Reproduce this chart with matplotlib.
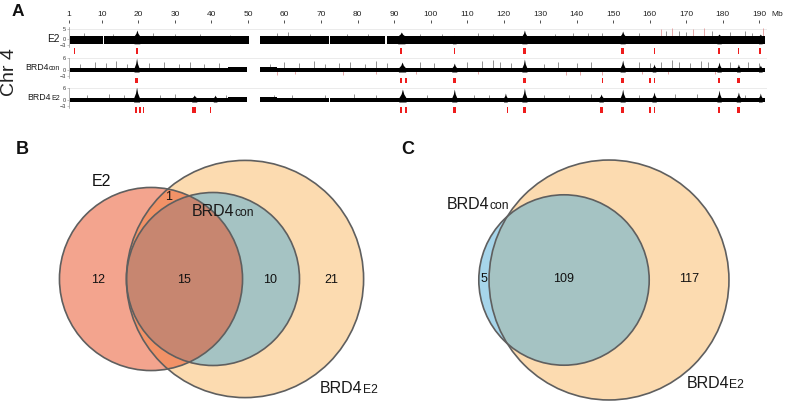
import matplotlib
matplotlib.use("Agg")
import matplotlib.pyplot as plt
import numpy as np
from matplotlib.patches import Circle

plt.rcParams['font.family'] = ['Liberation Sans', 'DejaVu Sans']

W, H = 787, 404

# ---- panel A data (Mb) ----
ruler_ticks = [1, 10, 20, 30, 40, 50, 60, 70, 80, 90, 100, 110, 120, 130, 140, 150, 160, 170, 180, 190]
track_names = [("E2", ""), ("BRD4", "con"), ("BRD4", "E2")]
track_yticks = [[-3, 0, 5], [-3, 0, 6], [-3, 0, 6]]

# (start, end, low, high) of the dense background signal
band_e2 = [(1.2, 10.2, -2.4, 1.5), (10.5, 50.4, -2.4, 1.5), (53.2, 72.3, -2.4, 1.5),
           (72.6, 87.6, -2.4, 1.5), (88.0, 191.5, -2.4, 1.5)]
band_con = [(1.2, 44.5, -1.0, 1.0), (44.5, 49.7, -1.2, 1.3), (53.2, 58.0, -1.2, 1.3),
            (58.0, 191.5, -1.0, 1.0)]
band_e2b = [(1.2, 44.5, -1.0, 1.1), (44.5, 49.7, -1.2, 1.3), (53.2, 58.0, -1.2, 1.3),
            (58.0, 72.3, -1.0, 1.1), (72.6, 191.5, -1.0, 1.1)]

# (centre, height, half width)
peaks_e2 = [(19.6, 4.5, 0.8), (92.0, 3.5, 1.0), (106.5, 1.8, 0.5), (125.7, 4.5, 0.7),
            (152.6, 4.0, 0.7), (179.0, 2.5, 0.6), (190.3, 2.5, 0.5)]
peaks_con = [(19.5, 6.0, 0.7), (92.2, 4.0, 1.0), (106.5, 3.5, 0.7), (125.7, 5.5, 0.7),
             (152.6, 5.0, 0.7), (161.2, 3.0, 0.5), (179.0, 4.0, 0.6), (184.3, 3.0, 0.5),
             (190.3, 2.5, 0.5)]
peaks_e2b = [(19.5, 6.5, 0.8), (35.3, 2.5, 0.7), (41.0, 2.5, 0.5), (92.3, 5.5, 1.0),
             (106.5, 5.5, 0.7), (120.5, 3.5, 0.5), (125.7, 6.0, 0.7), (146.7, 3.0, 0.6),
             (152.6, 5.5, 0.7), (161.2, 4.0, 0.6), (179.0, 5.0, 0.6), (184.3, 4.0, 0.6),
             (190.3, 3.5, 0.5)]

# thin spikes (pos, value)
spikes_e2 = [(5, 3), (13, 2.5), (24, 3), (30, 2.5), (37, 2.5), (45, 2), (58, 3), (61, 3.5),
             (67, 2.5), (77, 2.5), (83, 2.5), (97, 2.5), (103, 2.5), (113, 3), (117, 2.5),
             (134, 2.5), (139, 3), (143, 3), (147, 3), (157, 3), (164.5, 4), (168, 4),
             (170, 3.5), (177, 4), (182, 3.5), (186, 4), (188, 3)]
pink_e2 = [(163, 5), (166, 5.5), (172, 5), (175, 5.5), (191, 5.5)]
spikes_con = [(4, 3), (8, 4), (11, 3.5), (14, 4.5), (17, 3), (23, 3.5), (27, 4), (31, 3),
              (34, 4), (38, 3), (42, 3.5), (56, 3), (60, 4), (64, 3.5), (68, 4.5), (71, 3),
              (75, 3.5), (78, 4), (82, 3), (85, 4.5), (88, 3.5), (97, 4), (101, 3.5),
              (110, 4), (114, 4.5), (117, 5), (119, 4), (122, 3.5), (131, 3), (135, 4),
              (140, 3.5), (144, 4), (157, 4), (160, 3.5), (163, 4), (166, 5), (168, 4),
              (171, 3.5), (174, 4.5), (176, 4), (182, 4), (187, 4), (190, 3.5)]
pink_con = [(58, -2.5), (63, -2), (76, -2.5), (85, -2), (96, -2), (113, -2), (137, -2.5),
            (141, -2.5), (147, -2.5), (158, -2), (165, -2), (178, -2)]
spikes_e2b = [(6, 2.5), (12, 3), (16, 2.5), (26, 2.5), (30, 3), (44, 2.5), (57, 2.5),
              (62, 2.5), (71, 2.5), (79, 3), (85, 2.5), (99, 2.5), (112, 2.5), (116, 2.5),
              (131, 2.5), (138, 2.5), (144, 3), (157, 2.5), (167, 3), (173, 3), (186, 2.5)]
pink_e2b = []

# called regions (pos, width)
marks_e2 = [(2.4, 0.3), (19.7, 0.6), (92.0, 0.6), (106.5, 0.3), (125.7, 0.7), (152.6, 0.7),
            (161.3, 0.3), (178.9, 0.6), (184.3, 0.3), (190.2, 0.6)]
marks_con = [(19.5, 0.6), (91.9, 0.6), (93.2, 0.6), (106.5, 0.7), (125.7, 1.0), (147.2, 0.3),
             (152.6, 0.7), (160.1, 0.3), (161.3, 0.5), (178.9, 0.6), (184.3, 0.6)]
marks_e2b = [(19.3, 0.6), (20.4, 0.5), (21.4, 0.5), (35.2, 0.9), (39.7, 0.3), (91.9, 0.6),
             (93.2, 0.6), (106.5, 0.7), (121.1, 0.3), (125.7, 1.0), (146.7, 0.8),
             (152.6, 0.7), (160.1, 0.3), (161.3, 0.5), (178.9, 0.6), (184.3, 0.6)]

tracks = [
    (band_e2, peaks_e2, spikes_e2, pink_e2, marks_e2),
    (band_con, peaks_con, spikes_con, pink_con, marks_con),
    (band_e2b, peaks_e2b, spikes_e2b, pink_e2b, marks_e2b),
]

# ---- Venn data ----
venn_b = {"E2": 12, "E2&BRD4E2": 1, "all": 15, "con&BRD4E2": 10, "BRD4E2": 21}
venn_c = {"con": 5, "both": 109, "BRD4E2": 117}

c_orange = '#FBB963'
c_red = '#E94B1F'
c_blue = '#4FADD7'
edge = '#5f5f5f'

fig = plt.figure(figsize=(W / 100, H / 100), dpi=100)


def px_axes(left, top, width, height):
    return fig.add_axes([left / W, 1 - (top + height) / H, width / W, height / H])


ov = fig.add_axes([0, 0, 1, 1])
ov.set_xlim(0, W)
ov.set_ylim(H, 0)
ov.axis('off')

x0, x1 = 1.0, 192.0
left_px, scale = 69.0, 3.652
width_px = (x1 - x0) * scale

# ruler
ru = px_axes(left_px, 20, width_px, 3)
ru.set_xlim(x0, x1)
ru.set_ylim(0, 1)
ru.patch.set_visible(False)
for s in ru.spines.values():
    s.set_visible(False)
ru.set_yticks([])
ru.set_xticks(ruler_ticks)
ru.xaxis.tick_top()
ru.tick_params(axis='x', direction='in', length=2.2, width=0.6, color='#333333',
               labelsize=6, pad=1.5, labelcolor='#222222')
ov.text(777, 15, "Mb", fontsize=6, ha='center', va='center', color='#222222')

track_tops = [27, 58, 88]
mark_tops = [48, 77.5, 107]
label_y = [38, 67, 97]

for i, (band, peaks, spikes, pinks, marks) in enumerate(tracks):
    ax = px_axes(left_px, track_tops[i], width_px, 20)
    ax.set_xlim(x0, x1)
    ax.set_ylim(-4, 6)
    ax.patch.set_visible(False)
    for k in ['top', 'right', 'bottom']:
        ax.spines[k].set_visible(False)
    ax.spines['left'].set_color('#999999')
    ax.spines['left'].set_linewidth(0.5)
    ax.set_xticks([])
    ax.set_yticks(track_yticks[i])
    ax.tick_params(axis='y', length=1.5, width=0.4, color='#999999', labelsize=4,
                   pad=0.8, labelcolor='#333333')
    ax.axhline(track_yticks[i][-1], color='#e3e3e3', lw=0.5, zorder=0)
    for (p, v) in spikes:
        ax.vlines(p, 0, v, color='#808080', lw=0.6, zorder=1)
    for (p, v) in pinks:
        ax.vlines(p, 0, v, color='#e39a9a', lw=0.6, zorder=1)
    for (a, b, lo, hi) in band:
        ax.fill_between([a, b], [lo, lo], [hi, hi], color='black', lw=0, zorder=2)
    base_lo = band[-1][2]
    base_hi = band[-1][3]
    for (c, h, hw) in peaks:
        ax.fill_between([c - hw, c - hw * 0.35, c, c + hw * 0.35, c + hw],
                        [base_lo] * 5,
                        [base_hi, base_hi + (h - base_hi) * 0.45, h,
                         base_hi + (h - base_hi) * 0.45, base_hi],
                        color='black', lw=0, zorder=2)

    mk = px_axes(left_px, mark_tops[i], width_px, 5.5)
    mk.set_xlim(x0, x1)
    mk.set_ylim(0, 1)
    mk.axis('off')
    mk.bar([m[0] for m in marks], 1, width=[m[1] for m in marks], color='#ee1c1c', lw=0)


def label_with_sub(x, y, main, sub, size, subsize, align='left', color='#1a1a1a'):
    r = fig.canvas.get_renderer()
    if align == 'left':
        t = ov.text(x, y, main, fontsize=size, ha='left', va='baseline', color=color)
        bb = t.get_window_extent(renderer=r)
        ov.text(x + bb.width, y, sub, fontsize=subsize, ha='left', va='baseline', color=color)
    else:
        s = ov.text(x, y, sub, fontsize=subsize, ha='right', va='baseline', color=color)
        bb = s.get_window_extent(renderer=r)
        ov.text(x - bb.width, y, main, fontsize=size, ha='right', va='baseline', color=color)


for i, (main, sub) in enumerate(track_names):
    if sub:
        label_with_sub(60, label_y[i] + 3, main, sub, 6.3, 5, align='right')
    else:
        ov.text(60, label_y[i] + 3.5, main, fontsize=7.3, ha='right', va='baseline',
                color='#1a1a1a')

ov.text(10, 72, "Chr 4", fontsize=14, rotation=90, ha='center', va='center', color='#222222')

for letter, (x, y), size in [("A", (18, 12), 12.5), ("B", (22, 149.5), 13), ("C", (408, 149.5), 13)]:
    ov.text(x, y, letter, fontsize=size, fontweight='bold', ha='center', va='center',
            color='#111111')


# ---- Venn drawing ----
def circle(cx, cy, r, col):
    ov.add_patch(Circle((cx, cy), r, facecolor=col, edgecolor='none', alpha=0.5, zorder=2))
    ov.add_patch(Circle((cx, cy), r, facecolor='none', edgecolor=edge, lw=1.2, zorder=3))


# panel B : radius from set totals
kb = 17.3
e2_tot = venn_b["E2"] + venn_b["E2&BRD4E2"] + venn_b["all"]
con_tot = venn_b["all"] + venn_b["con&BRD4E2"]
e2b_tot = venn_b["E2&BRD4E2"] + venn_b["all"] + venn_b["con&BRD4E2"] + venn_b["BRD4E2"]
circle(245, 279, kb * np.sqrt(e2b_tot), c_orange)
circle(213, 279, kb * np.sqrt(con_tot), c_blue)
circle(151, 279, kb * np.sqrt(e2_tot), c_red)

nb = dict(fontsize=9, ha='center', va='center', color='#111111', zorder=5)
ov.text(98, 280, str(venn_b["E2"]), **nb)
ov.text(169, 197, str(venn_b["E2&BRD4E2"]), **nb)
ov.text(184, 280, str(venn_b["all"]), **nb)
ov.text(270, 280, str(venn_b["con&BRD4E2"]), **nb)
ov.text(331, 280, str(venn_b["BRD4E2"]), **nb)
ov.text(92, 186, "E2", fontsize=11.5, ha='left', va='baseline', color='#111111')
label_with_sub(192, 216.5, "BRD4", "con", 11.5, 8.7)
label_with_sub(320, 393, "BRD4", "E2", 11.5, 8.7)

# panel C
kc = 7.98
con_c = venn_c["con"] + venn_c["both"]
e2b_c = venn_c["both"] + venn_c["BRD4E2"]
circle(609, 280, kc * np.sqrt(e2b_c), c_orange)
circle(564, 280, kc * np.sqrt(con_c), c_blue)
ov.text(484, 279, str(venn_c["con"]), **nb)
ov.text(564, 279, str(venn_c["both"]), **nb)
ov.text(689, 279, str(venn_c["BRD4E2"]), **nb)
label_with_sub(446.5, 209, "BRD4", "con", 11.5, 8.7)
label_with_sub(686.5, 388, "BRD4", "E2", 11.5, 8.7)

fig.savefig("out.png", dpi=100)
